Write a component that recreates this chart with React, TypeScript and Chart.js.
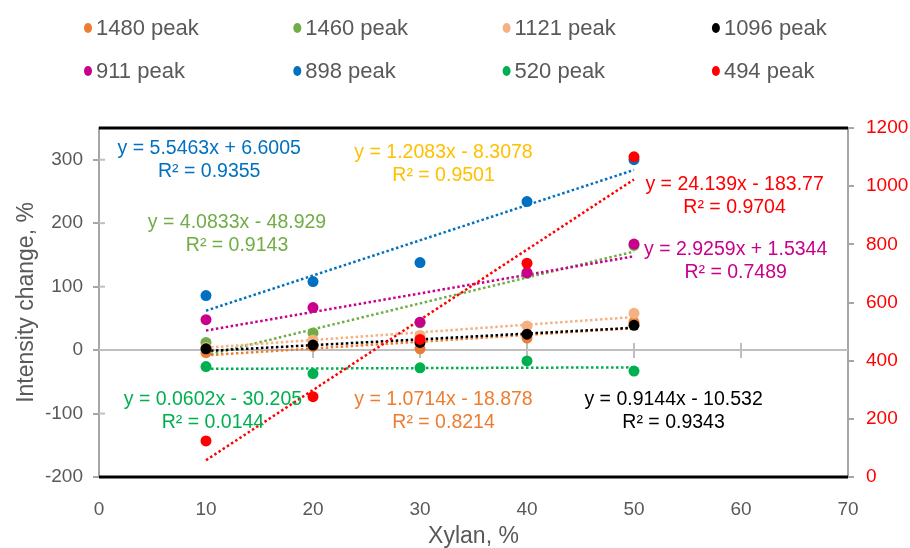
import React, { useEffect, useRef } from 'react';
import { Chart, registerables } from 'chart.js';

Chart.register(...registerables);

const FONT = '"Liberation Sans", Arial, sans-serif';
const GRAY_TEXT = '#595959';

const xValues = [10, 20, 30, 40, 50];
const seriesNames = ['1480 peak', '1460 peak', '1121 peak', '1096 peak', '911 peak', '898 peak', '520 peak', '494 peak'];
const seriesColors = ['#ED7D31', '#70AD47', '#F4B183', '#000000', '#C8008C', '#0070C0', '#00B050', '#FF0000'];
const labelColors = ['#ED7D31', '#70AD47', '#FFC000', '#000000', '#C8008C', '#0070C0', '#00B050', '#FF0000'];

const peak1480 = [-4, 6, 2, 19, 44];
const peak1460 = [12, 27, 43, 121, 165];
const peak1121 = [4, 16, 23, 38, 58];
const peak1096 = [2, 8, 12, 25, 39];
const peak911 = [48, 67, 44, 122, 167];
const peak898 = [86, 108, 138, 234, 300];
const peak520 = [-26, -37, -28, -17, -33];
const peak494 = [124, 276, 473, 735, 1101]; // secondary (right) axis

const seriesValues = [peak1480, peak1460, peak1121, peak1096, peak911, peak898, peak520, peak494];
const onRightAxis = [false, false, false, false, false, false, false, true];

const slopes = [1.0714, 4.0833, 1.2083, 0.9144, 2.9259, 5.5463, 0.0602, 24.139];
const intercepts = [-18.878, -48.929, -8.3078, -10.532, 1.5344, 6.6005, -30.205, -183.77];
const equationTexts = [
  'y = 1.0714x - 18.878',
  'y = 4.0833x - 48.929',
  'y = 1.2083x - 8.3078',
  'y = 0.9144x - 10.532',
  'y = 2.9259x + 1.5344',
  'y = 5.5463x + 6.6005',
  'y = 0.0602x - 30.205',
  'y = 24.139x - 183.77',
];
const r2Texts = ['R² = 0.8214', 'R² = 0.9143', 'R² = 0.9501', 'R² = 0.9343', 'R² = 0.7489', 'R² = 0.9355', 'R² = 0.0144', 'R² = 0.9704'];
// label anchors in (x, left-axis y) units
const labelX = [32.2, 12.9, 32.2, 53.7, 59.5, 10.3, 10.65, 59.4];
const labelY = [-78.7, 200.5, 310.7, -78.7, 158.6, 318, -78.7, 261];

const xTickStep = 10;
const xMin = 0;
const xMax = 70;
const yLeftMin = -200;
const yLeftMax = 350;
const yLeftStep = 100;
const yRightMin = 0;
const yRightMax = 1200;
const yRightStep = 200;
const xAxisTitle = 'Xylan, %';
const yAxisTitle = 'Intensity change, %';

const decorPlugin = {
  id: 'decor',
  beforeDatasetsDraw(chart: any) {
    const { ctx, chartArea } = chart;
    const xs = chart.scales.x;
    const ys = chart.scales.y;
    const y0 = ys.getPixelForValue(0);
    ctx.save();
    // zero line
    ctx.strokeStyle = '#BFBFBF';
    ctx.lineWidth = 2;
    ctx.beginPath();
    ctx.moveTo(chartArea.left, y0);
    ctx.lineTo(chartArea.right, y0);
    ctx.stroke();
    // tick marks on zero line
    for (let v = xMin + xTickStep; v < xMax; v += xTickStep) {
      const px = xs.getPixelForValue(v);
      ctx.beginPath();
      ctx.moveTo(px, y0 - 7);
      ctx.lineTo(px, y0 + 8);
      ctx.stroke();
    }
    // left axis inner tick marks
    for (let v = yLeftMin; v <= 300; v += yLeftStep) {
      const py = ys.getPixelForValue(v);
      ctx.beginPath();
      ctx.moveTo(chartArea.left, py);
      ctx.lineTo(chartArea.left + 6, py);
      ctx.stroke();
    }
    // thick top/bottom borders
    ctx.strokeStyle = '#000000';
    ctx.lineWidth = 3;
    ctx.beginPath();
    ctx.moveTo(chartArea.left, chartArea.top);
    ctx.lineTo(chartArea.right, chartArea.top);
    ctx.moveTo(chartArea.left, chartArea.bottom);
    ctx.lineTo(chartArea.right, chartArea.bottom);
    ctx.stroke();
    ctx.restore();
  },
  afterDatasetsDraw(chart: any) {
    const { ctx } = chart;
    const xs = chart.scales.x;
    const ys = chart.scales.y;
    ctx.save();
    ctx.font = `19.5px ${FONT}`;
    ctx.textAlign = 'center';
    ctx.textBaseline = 'middle';
    for (let i = 0; i < equationTexts.length; i++) {
      const px = xs.getPixelForValue(labelX[i]);
      const py = ys.getPixelForValue(labelY[i]);
      ctx.fillStyle = labelColors[i];
      ctx.fillText(equationTexts[i], px, py);
      ctx.fillText(r2Texts[i], px, py + 23);
    }
    ctx.restore();
  },
  afterDraw(chart: any) {
    const { ctx } = chart;
    ctx.save();
    ctx.font = `22px ${FONT}`;
    ctx.textAlign = 'left';
    ctx.textBaseline = 'middle';
    const startX = 88;
    const colW = 209.3;
    const rowY = [28, 71];
    for (let i = 0; i < seriesNames.length; i++) {
      const col = i % 4;
      const row = Math.floor(i / 4);
      const cx = startX + col * colW;
      const cy = rowY[row];
      ctx.fillStyle = seriesColors[i];
      ctx.beginPath();
      ctx.ellipse(cx, cy, 4, 5, 0, 0, Math.PI * 2);
      ctx.fill();
      ctx.fillStyle = GRAY_TEXT;
      ctx.fillText(seriesNames[i], cx + 8, cy + 1);
    }
    ctx.restore();
  },
};

export default function App() {
  const canvasRef = useRef<HTMLCanvasElement | null>(null);

  useEffect(() => {
    if (!canvasRef.current) return;
    const datasets: any[] = [];
    seriesValues.forEach((vals, i) => {
      datasets.push({
        type: 'scatter',
        label: seriesNames[i],
        data: xValues.map((x, j) => ({ x, y: vals[j] })),
        yAxisID: onRightAxis[i] ? 'y2' : 'y',
        backgroundColor: seriesColors[i],
        borderColor: seriesColors[i],
        borderWidth: 0,
        pointRadius: 5.5,
        order: 8 - i,
      });
    });
    seriesValues.forEach((_, i) => {
      const x1 = xValues[0];
      const x2 = xValues[xValues.length - 1];
      datasets.push({
        type: 'line',
        label: seriesNames[i] + ' trend',
        data: [
          { x: x1, y: slopes[i] * x1 + intercepts[i] },
          { x: x2, y: slopes[i] * x2 + intercepts[i] },
        ],
        yAxisID: onRightAxis[i] ? 'y2' : 'y',
        borderColor: seriesColors[i],
        borderWidth: 2.5,
        borderDash: [2.5, 2.5],
        pointRadius: 0,
        fill: false,
        order: 30 - i,
      });
    });

    const tickFont = { family: FONT, size: 19 };
    const chart = new Chart(canvasRef.current, {
      type: 'scatter',
      data: { datasets },
      options: {
        responsive: false,
        animation: false,
        layout: { padding: { top: 128, left: 0, right: 0, bottom: 0 } },
        plugins: { legend: { display: false }, tooltip: { enabled: false } },
        scales: {
          x: {
            type: 'linear',
            position: 'bottom',
            min: xMin,
            max: xMax,
            ticks: { stepSize: xTickStep, color: GRAY_TEXT, font: tickFont, padding: 13 },
            grid: { display: false },
            border: { display: false },
            title: { display: true, text: xAxisTitle, color: GRAY_TEXT, font: { family: FONT, size: 23, lineHeight: 1 }, padding: 0 },
            afterFit: (s: any) => { s.height = 71; },
          },
          y: {
            type: 'linear',
            position: 'left',
            min: yLeftMin,
            max: yLeftMax,
            ticks: { stepSize: yLeftStep, includeBounds: false, color: GRAY_TEXT, font: tickFont, padding: 10, callback: (v: any) => String(v) },
            grid: { drawOnChartArea: false, drawTicks: true, tickLength: 6, color: '#A6A6A6', lineWidth: 2 },
            border: { display: true, color: '#A6A6A6', width: 2 },
            title: { display: true, text: yAxisTitle, color: GRAY_TEXT, font: { family: FONT, size: 23 }, padding: { top: 13, bottom: 0 } },
            afterFit: (s: any) => { s.width = 99; },
          },
          y2: {
            type: 'linear',
            position: 'right',
            min: yRightMin,
            max: yRightMax,
            ticks: { stepSize: yRightStep, color: '#FF0000', font: tickFont, padding: 12, callback: (v: any) => String(v) },
            grid: { drawOnChartArea: false, drawTicks: true, tickLength: 6, color: '#A6A6A6', lineWidth: 2 },
            border: { display: true, color: '#A6A6A6', width: 2 },
            afterFit: (s: any) => { s.width = 62; },
          },
        },
      } as any,
      plugins: [decorPlugin],
    });
    return () => chart.destroy();
  }, []);

  return (
    <div style={{ position: 'absolute', left: 0, top: 0, width: 910, height: 548, background: '#ffffff' }}>
      <canvas ref={canvasRef} width={910} height={548} style={{ display: 'block' }} />
    </div>
  );
}
